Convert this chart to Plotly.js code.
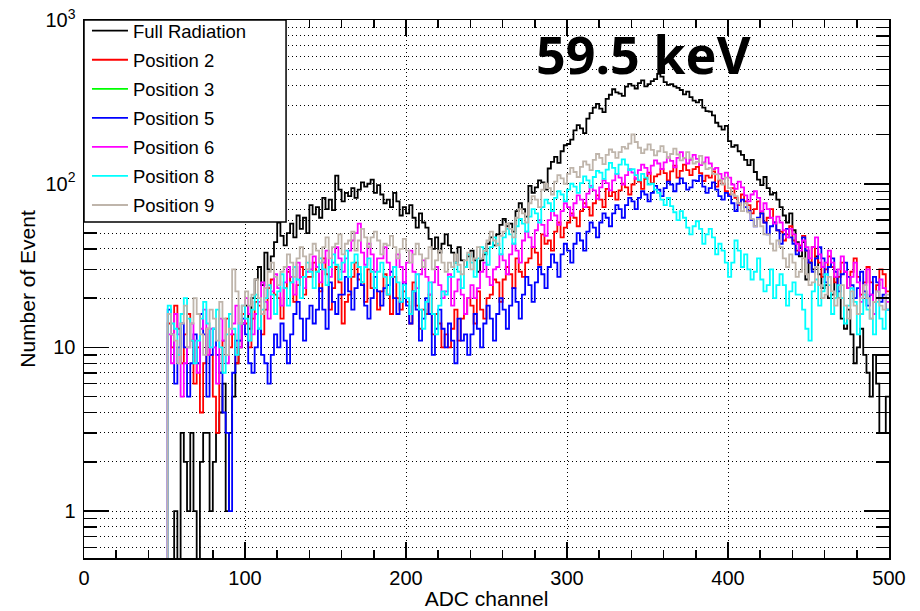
<!DOCTYPE html>
<html><head><meta charset="utf-8">
<script src="https://cdn.plot.ly/plotly-3.0.1.min.js"></script>
<style>html,body{margin:0;padding:0;background:#fff}#chart{width:920px;height:611px}</style>
</head><body><div id="chart"></div>
<script>
// histogram bin width (ADC channels); bins start at 0
const binWidth = 2;
const seriesNames = ["Full Radiation", "Position 2", "Position 3", "Position 5", "Position 6", "Position 8", "Position 9"];

const fullRadiation = [0,0,0,0,0,0,0,0,0,0,0,0,0,0,0,0,0,0,0,0,0,0,0,0,0,0,0,0,
  1,0, 3,2, 1,3, 1,0, 2,3, 3,1, 2,3, 4,6, 1,3, 5,8, 10,14,
  18,13, 20,26, 31,24, 38,30, 36,44, 58,48, 42,50, 57,47, 64,53, 62,50,
  74,65, 72,62, 82,70, 80,69, 112,92, 78,88, 84,94, 82,92, 102,96, 100,106,
  88,98, 86,76, 80,72, 88,78, 64,72, 66,74, 62,54, 66,58, 54,46, 40,47,
  38,43, 49,42, 38,33, 41,34, 31,36, 39,34, 29,34, 37,43, 47,42, 49,56,
  61,55, 57,51, 68,76, 70,63, 97,88, 95,105, 102,92, 124,136, 146,134, 158,172,
  175,186, 212,228, 218,204, 250,270, 292,308, 288,274, 330,350, 378,362, 356,344, 392,408,
  398,382, 412,428, 394,406, 424,436, 470,452, 418,402, 406,394, 386,374, 352,366, 338,322,
  314,326, 292,278, 276,262, 236,224, 214,226, 182,168, 172,158, 150,140, 130,140, 118,106,
  98,110, 94,86, 88,80, 72,64, 58,66, 52,44, 36,44, 26,33, 30,36, 28,23,
  24,20, 21,27, 20,15, 13,17, 12,8, 10,13, 9,7, 5,9, 6,3, 3,5];

const position2 = [0,0,0,0,0,0,0,0,0,0,0,0,0,0,0,0,0,0,0,0,0,0,0,0,0,0,
  14,10, 18,13, 8,12, 16,11, 6,10, 4,8, 13,9, 5,3, 7,11, 15,10, 12,8, 11,16,
  14,10, 15,19, 18,12, 17,23, 26,21, 20,15, 23,29, 25,19, 24,31, 21,27,
  27,33, 29,22, 35,28, 17,23, 31,25, 14,19, 21,27, 33,26, 25,19, 30,23,
  23,17, 22,28, 21,16, 27,20, 17,22, 19,14, 25,18, 13,17, 16,21, 12,16,
  14,10, 12,10, 13,17, 11,15, 16,20, 18,14, 22,17, 15,20, 21,26, 25,19,
  26,31, 28,23, 35,29, 27,33, 35,41, 38,32, 49,43, 45,39, 51,58, 47,54,
  58,66, 62,55, 68,76, 72,64, 76,85, 80,72, 93,84, 89,80, 91,100, 95,86,
  99,108, 103,93, 107,117, 101,111, 114,123, 116,105, 119,129, 109,120, 131,121, 113,123,
  127,116, 104,112, 109,119, 96,105, 100,90, 86,94, 82,74, 86,78, 74,66, 70,78,
  66,58, 62,70, 58,52, 51,45, 49,55, 45,39, 42,48, 39,33, 41,35, 33,27,
  30,36, 31,25, 27,33, 29,23, 29,35, 27,21, 25,31, 25,19, 24,30, 28,22];

const position3 = [];

const position5 = [0,0,0,0,0,0,0,0,0,0,0,0,0,0,0,0,0,0,0,0,0,0,0,0,0,0,
  17,12, 6,10, 14,10, 5,8, 12,8, 16,12, 5,9, 13,9, 7,4, 3,1, 7,11, 11,15,
  12,8, 7,10, 13,9, 8,6, 9,12, 10,14, 11,8, 12,16, 19,15, 11,15,
  18,14, 17,23, 17,13, 25,19, 16,21, 21,27, 22,17, 23,28, 24,18, 15,20,
  27,22, 18,23, 24,29, 20,16, 19,25, 18,14, 22,17, 11,15, 20,16, 9,13,
  17,13, 10,14, 11,8, 15,11, 12,9, 12,16, 13,10, 14,18, 15,11, 16,20,
  17,13, 18,23, 19,15, 21,27, 24,19, 25,31, 28,23, 31,37, 33,27, 37,43,
  39,33, 43,50, 45,39, 51,58, 54,47, 58,66, 62,55, 66,74, 70,62, 74,82,
  78,70, 82,90, 86,78, 88,97, 92,84, 94,103, 99,90, 100,108, 101,92, 95,105,
  104,112, 96,88, 94,102, 92,84, 80,88, 84,76, 68,76, 80,72, 68,60, 55,62,
  66,58, 49,55, 58,52, 43,49, 53,47, 43,37, 41,47, 39,33, 29,35, 41,35,
  25,31, 35,29, 22,28, 33,27, 24,20, 23,29, 22,18, 21,27, 25,19, 21,17];

const position6 = [0,0,0,0,0,0,0,0,0,0,0,0,0,0,0,0,0,0,0,0,0,0,0,0,0,0,
  12,8, 16,12, 5,8, 10,14, 11,7, 13,17, 9,13, 10,6, 15,11, 8,12, 14,18, 10,14,
  20,16, 12,16, 19,25, 19,15, 22,28, 23,18, 25,31, 27,21, 33,27, 23,29,
  30,36, 31,25, 33,39, 27,33, 41,35, 29,35, 39,45, 50,57, 38,32, 43,37,
  29,35, 35,41, 33,27, 31,37, 31,25, 33,39, 29,23, 28,34, 27,21, 25,31,
  24,20, 22,28, 18,22, 26,21, 16,20, 24,20, 23,29, 33,27, 24,30, 31,37,
  34,28, 37,43, 39,33, 45,51, 47,41, 52,60, 56,48, 60,68, 64,56, 68,76,
  72,64, 76,85, 80,72, 87,97, 91,81, 95,105, 101,91, 105,115, 109,99, 113,123,
  117,107, 121,131, 125,115, 129,139, 133,123, 135,145, 138,126, 144,156, 143,133, 140,150,
  142,130, 135,145, 133,123, 125,115, 107,117, 109,99, 93,103, 95,85, 78,86, 90,82,
  68,76, 70,62, 57,63, 58,52, 47,53, 49,43, 39,45, 41,35, 41,47, 37,31,
  33,39, 33,27, 30,36, 29,23, 27,33, 25,19, 24,30, 21,16, 22,26, 23,19];

const position8 = [0,0,0,0,0,0,0,0,0,0,0,0,0,0,0,0,0,0,0,0,0,0,0,0,0,0,
  18,14, 13,9, 16,20, 15,11, 8,11, 15,19, 14,10, 13,17, 10,7, 12,16, 13,9, 14,18,
  15,11, 17,21, 13,17, 20,24, 21,16, 22,28, 23,18, 25,31, 26,20, 27,33,
  29,23, 29,35, 30,24, 31,37, 32,26, 33,39, 27,33, 37,31, 25,31, 35,29,
  23,29, 33,27, 21,27, 31,25, 19,24, 20,16, 22,28, 17,13, 19,25, 16,12,
  18,22, 21,27, 27,33, 29,23, 31,37, 33,27, 35,41, 38,32, 41,47, 43,37,
  47,53, 49,43, 55,61, 57,51, 63,70, 66,58, 72,80, 76,68, 82,90, 86,78,
  92,100, 96,88, 101,111, 105,95, 110,120, 117,107, 122,134, 125,115, 131,141, 131,121,
  123,113, 105,115, 109,99, 100,92, 88,80, 74,82, 73,67, 60,68, 62,54, 49,55,
  59,53, 43,49, 53,47, 37,43, 39,33, 27,33, 45,39, 31,37, 30,26, 29,35,
  26,22, 24,30, 20,24, 28,24, 18,22, 25,21, 21,17, 13,11, 22,26, 18,22,
  28,24, 16,20, 24,20, 14,18, 23,19, 12,16, 21,17, 15,12, 19,15, 13,17];

const position9 = [0,0,0,0,0,0,0,0,0,0,0,0,0,0,0,0,0,0,0,0,0,0,0,0,0,0,
  16,12, 11,8, 14,18, 10,14, 20,16, 12,9, 13,17, 15,11, 19,15, 9,13, 30,22, 14,18,
  22,18, 21,26, 20,16, 23,29, 33,27, 24,29, 31,37, 33,27, 35,41, 36,30,
  37,43, 39,33, 41,47, 35,41, 43,49, 37,43, 45,51, 39,45, 53,47, 41,47,
  51,45, 37,43, 42,48, 41,35, 40,46, 39,33, 37,43, 37,31, 35,41, 30,34,
  39,33, 29,33, 31,37, 32,28, 34,38, 30,35, 41,35, 39,45, 51,45, 42,48,
  51,57, 53,47, 62,70, 66,58, 76,84, 80,72, 92,100, 94,86, 103,113, 108,100,
  115,125, 118,110, 127,137, 131,121, 140,152, 144,132, 150,162, 156,144, 156,168, 164,176,
  200,180, 166,154, 162,174, 161,149, 158,170, 156,144, 152,164, 151,139, 144,156, 143,133,
  136,148, 133,123, 125,115, 114,106, 99,109, 94,86, 84,76, 68,76, 67,61, 55,61,
  55,49, 49,43, 39,45, 41,35, 31,37, 33,27, 29,35, 28,24, 25,31, 24,20,
  21,27, 22,18, 20,24, 18,15, 22,18, 16,20, 24,20, 15,19, 22,18, 17,21];

const yTickVals = [1, 10, 100, 1000];
const yTickText = ["1", "10", "10<sup>2</sup>", "10<sup>3</sup>"];
const yMinorVals = [0.6,0.7,0.8,0.9,2,3,4,5,6,7,8,9,20,30,40,50,60,70,80,90,200,300,400,500,600,700,800,900];
const xTickVals = [0, 100, 200, 300, 400, 500];

const allCounts = [fullRadiation, position2, position3, position5, position6, position8, position9];
const colors = ["#000000", "#ff0000", "#00ff00", "#0000ff", "#ff00ff", "#00ffff", "#bfb5ab"];

const FLOOR = 0.05; // empty bins drawn below the visible range
function stepTrace(counts, name, color, idx) {
  let xs = [], ys = [];
  if (counts.length === 0) { xs = [null]; ys = [null]; }
  else {
    for (let i = 0; i < counts.length; i++) {
      xs.push(i * binWidth);
      ys.push(counts[i] > 0 ? counts[i] : FLOOR);
    }
    xs.push(counts.length * binWidth);
    ys.push(counts[counts.length - 1] > 0 ? counts[counts.length - 1] : FLOOR);
  }
  return {x: xs, y: ys, type: "scatter", mode: "lines", name: name,
    legendgroup: "g" + idx,
    line: {shape: "hv", color: color, width: 1.8}, hoverinfo: "skip"};
}
const traces = allCounts.map((c, i) => stepTrace(c, seriesNames[i], colors[i], i));

const gridDash = "1px,3px";
const fontFam = "Liberation Sans, Arial, sans-serif";
const layout = {
  width: 920, height: 611,
  margin: {l: 84, r: 31, t: 14, b: 53},
  paper_bgcolor: "#ffffff", plot_bgcolor: "#ffffff",
  showlegend: true,
  legend: {x: 0.0037, y: 1.0145, xanchor: "left", yanchor: "top",
    bgcolor: "rgba(0,0,0,0)", borderwidth: 0, itemwidth: 36, tracegroupgap: 2,
    font: {family: fontFam, size: 18.5, color: "#000"}},
  xaxis: {range: [0, 500], tickmode: "array", tickvals: xTickVals,
    ticks: "inside", ticklen: 16, tickwidth: 1.5, tickcolor: "#000",
    showline: true, linecolor: "#000", linewidth: 1.5, mirror: "ticks",
    showgrid: true, gridcolor: "#000", griddash: gridDash, gridwidth: 1,
    zeroline: false, ticklabelstandoff: 1,
    tickfont: {family: fontFam, size: 20, color: "#000"},
    minor: {dtick: 20, tick0: 0, ticks: "inside", ticklen: 8, tickwidth: 1.5, tickcolor: "#000", showgrid: false},
    title: {text: "ADC channel", standoff: 4, font: {family: fontFam, size: 21, color: "#000"}}},
  yaxis: {type: "log", range: [-0.287, 3.0008], tickmode: "array", tickvals: yTickVals, ticktext: yTickText,
    ticks: "inside", ticklen: 25, tickwidth: 1.5, tickcolor: "#000",
    showline: true, linecolor: "#000", linewidth: 1.5, mirror: "ticks",
    showgrid: true, gridcolor: "#000", griddash: gridDash, gridwidth: 1,
    zeroline: false, ticklabelstandoff: 3,
    tickfont: {family: fontFam, size: 20, color: "#000"},
    minor: {tickmode: "array", tickvals: yMinorVals, ticks: "inside", ticklen: 13, tickwidth: 1.5, tickcolor: "#000",
      showgrid: true, gridcolor: "#000", griddash: gridDash, gridwidth: 1},
    title: {text: "Number of Event", standoff: 4, font: {family: fontFam, size: 21, color: "#000"}}},
  shapes: [{type: "rect", xref: "paper", yref: "paper", x0: 0, x1: 0.251, y0: 0.6247, y1: 1,
    fillcolor: "#ffffff", line: {color: "#000", width: 1.5}, layer: "above"}],
  annotations: [{text: "59.5 keV", xref: "paper", yref: "paper", x: 0.695, y: 0.9375,
    xanchor: "center", yanchor: "middle", showarrow: false,
    font: {family: "Noto Sans", size: 52, color: "#000", weight: 700}}]
};
Plotly.newPlot("chart", traces, layout, {staticPlot: true, displayModeBar: false});
</script>
</body></html>
